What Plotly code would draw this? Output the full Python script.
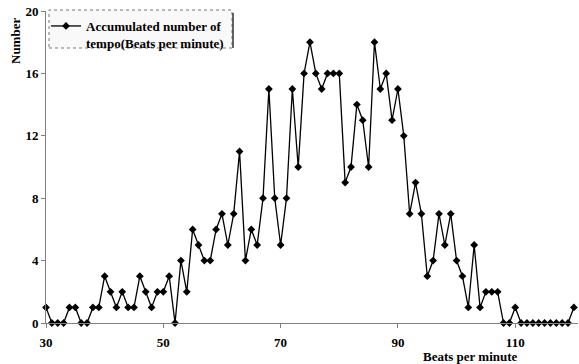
import plotly.graph_objects as go

bpm = list(range(30, 121))
counts = [1, 0, 0, 0, 1, 1, 0, 0, 1, 1,
          3, 2, 1, 2, 1, 1, 3, 2, 1, 2,
          2, 3, 0, 4, 2, 6, 5, 4, 4, 6,
          7, 5, 7, 11, 4, 6, 5, 8, 15, 8,
          5, 8, 15, 10, 16, 18, 16, 15, 16, 16,
          16, 9, 10, 14, 13, 10, 18, 15, 16, 13,
          15, 12, 7, 9, 7, 3, 4, 7, 5, 7,
          4, 3, 1, 5, 1, 2, 2, 2, 0, 0,
          1, 0, 0, 0, 0, 0, 0, 0, 0, 0,
          1]
x_ticks = [30, 50, 70, 90, 110]
y_ticks = [0, 4, 8, 12, 16, 20]

FONT = "Liberation Serif"

fig = go.Figure()
fig.add_trace(go.Scatter(
    x=bpm, y=counts, mode="lines+markers",
    name="<b>Accumulated number of<br>tempo(Beats per minute)</b>",
    line=dict(color="black", width=1.3),
    marker=dict(symbol="diamond", size=6, color="black"),
    cliponaxis=False,
))

fig.update_layout(
    width=579, height=364,
    margin=dict(l=46, r=1, t=11, b=41, autoexpand=False),
    paper_bgcolor="white", plot_bgcolor="white",
    font=dict(family=FONT, color="black", size=13),
    showlegend=True,
    legend=dict(
        x=0.0, y=1.0, xanchor="left", yanchor="top",
        bgcolor="rgba(0,0,0,0)", borderwidth=0,
        valign="top", tracegroupgap=0,
        font=dict(family=FONT, size=13, color="black"),
        itemwidth=30,
    ),
    xaxis=dict(
        range=[30, 120.7], tickvals=x_ticks,
        ticktext=[f"<b>{v}</b>" for v in x_ticks],
        showgrid=False, zeroline=False, showline=True,
        linecolor="#808080", linewidth=1,
        ticks="outside", ticklen=4, tickcolor="#808080",
        ticklabelstandoff=3, automargin=False,
        tickfont=dict(family=FONT, size=13, color="black"),
    ),
    yaxis=dict(
        range=[0, 20], tickvals=y_ticks,
        ticktext=[f"<b>{v}</b>" for v in y_ticks],
        showgrid=False, zeroline=False, showline=True,
        linecolor="#808080", linewidth=1,
        ticks="outside", ticklen=4, tickcolor="#808080",
        automargin=False,
        tickfont=dict(family=FONT, size=13, color="black"),
    ),
    shapes=[
        dict(type="rect", xref="paper", yref="paper",
             x0=3 / 532, x1=186 / 532, y0=1 - 37 / 312, y1=1 + 1 / 312,
             line=dict(color="#777777", width=1, dash="dot"),
             fillcolor="#f9f9f9", layer="below"),
        dict(type="line", xref="paper", yref="paper",
             x0=187 / 532, x1=187 / 532, y0=1 - 37 / 312, y1=1 - 2 / 312,
             line=dict(color="#333333", width=1.5)),
    ],
    annotations=[
        dict(text="<b>Beats per minute</b>", xref="paper", yref="paper",
             x=(470 - 46) / 532, y=-33 / 312, xanchor="center", yanchor="middle",
             showarrow=False, font=dict(family=FONT, size=13, color="black")),
        dict(text="<b>Number</b>", xref="paper", yref="paper",
             x=-31 / 532, y=1 - 30 / 312, xanchor="center", yanchor="middle",
             textangle=-90, showarrow=False,
             font=dict(family=FONT, size=13, color="black")),
    ],
)

fig.write_html("out.html", config={"displayModeBar": False},
               post_script="document.body.style.margin='0px';")
